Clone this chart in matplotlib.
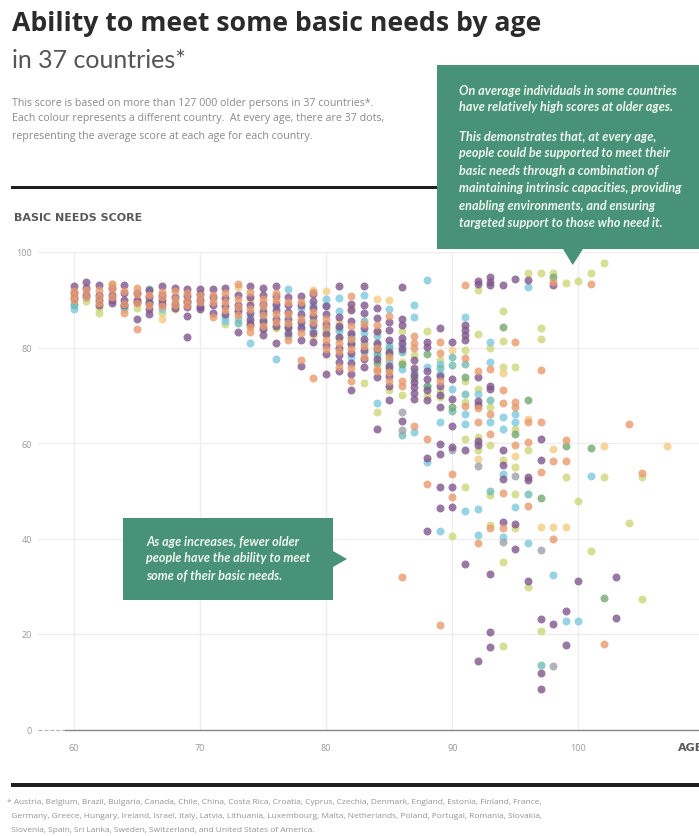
"""plot.py - Ability to meet some basic needs by age, 37 countries"""

import matplotlib
matplotlib.use("Agg")
import matplotlib.pyplot as plt
from matplotlib.patches import Polygon, Rectangle

# --- Data: score, per age, grouped by dot colour ------------------------------

purple = {
    60: [92.9, 91.5, 90.3], 61: [93.7, 92.4, 91.0], 62: [93.0, 91.0, 90.0, 89.0],
    63: [92.5, 91.0, 90.0, 89.3], 64: [93.0, 91.5, 90.0, 88.8], 65: [91.5, 90.0, 89.5, 86.0],
    66: [92.0, 90.5, 89.3, 88.0, 87.0], 67: [92.8, 91.0, 90.0, 89.2], 68: [92.5, 90.5, 89.2, 88.2],
    69: [92.3, 90.8, 89.5, 88.5, 86.6, 82.3], 70: [92.3, 91.2, 90.0, 88.5, 88.0],
    71: [92.3, 90.5, 88.8, 87.3], 72: [92.5, 90.4, 88.6, 87.0], 73: [91.0, 89.0, 87.6, 83.2],
    74: [92.8, 90.6, 89.0, 87.2, 85.8, 85.0], 75: [92.5, 91.0, 89.2, 87.6, 85.5, 83.8, 82.6],
    76: [92.8, 90.8, 89.2, 87.8, 86.0, 84.6, 81.0], 77: [90.5, 88.9, 87.5, 86.0, 84.3, 83.0],
    78: [90.7, 88.8, 87.0, 85.4, 84.0, 81.5, 76.2], 79: [91.2, 89.8, 88.2, 86.6, 84.7, 83.0, 81.2],
    80: [88.6, 87.0, 85.0, 82.8, 80.5, 78.7, 74.5], 81: [92.8, 86.4, 84.6, 82.3, 80.0, 78.4, 77.0, 75.0],
    82: [89.2, 87.8, 85.6, 83.0, 80.8, 78.8, 76.7, 74.5, 71.0],
    83: [92.8, 88.8, 87.2, 84.0, 81.8, 79.4, 77.5, 76.0], 84: [88.3, 86.2, 83.4, 81.0, 79.6, 77.5, 73.8, 63.0],
    85: [85.3, 83.7, 81.6, 79.0, 76.2, 74.0, 72.0, 69.0], 86: [92.7, 85.9, 84.7, 82.0, 81.0, 79.6, 64.7],
    87: [77.3, 75.8, 74.3, 72.8, 71.7, 70.5, 69.3], 88: [81.2, 80.2, 75.0, 73.4, 71.0, 69.0, 56.8, 41.5],
    89: [84.0, 74.0, 72.0, 70.0, 67.5, 59.7, 57.8, 50.7, 46.3], 90: [81.2, 73.5, 69.3, 63.6, 59.2, 50.7, 46.6],
    91: [84.7, 83.6, 82.6, 81.5, 58.5, 34.7], 92: [94.0, 93.3, 73.8, 68.9, 68.0, 60.5, 59.5, 14.4],
    93: [94.7, 93.8, 93.1, 72.0, 71.4, 32.6, 20.4, 17.2], 94: [93.1, 58.5, 55.3, 52.5, 43.5],
    95: [94.4, 43.1, 37.7], 96: [94.1, 52.9, 52.3, 31.2], 97: [60.8, 56.5, 23.2, 11.8, 8.5],
    98: [93.1, 22.0], 99: [24.8, 17.7], 100: [31.2], 103: [32.0, 23.3],
}
orange = {
    60: [91.8, 90.8, 90.0], 61: [92.0, 90.6], 62: [92.0, 90.5, 89.4], 63: [93.4, 92.2, 90.6],
    64: [91.8, 89.2, 87.2], 65: [92.5, 91.3, 89.4, 83.8], 66: [91.0, 89.0], 67: [91.6, 90.6, 88.6],
    68: [91.8, 90.2, 89.0], 69: [91.5, 90.0, 88.8], 70: [91.0, 89.5], 71: [91.0, 89.6, 86.4],
    72: [91.5, 89.5, 87.8], 73: [93.2, 90.2, 88.4, 86.8], 74: [91.6, 88.0, 84.2, 83.2],
    75: [90.2, 88.6, 86.8, 84.6], 76: [91.4, 90.0, 87.0, 85.4], 77: [89.6, 87.0, 85.2, 81.5],
    78: [89.6, 86.0, 83.0, 77.3], 79: [91.7, 87.4, 85.4, 73.7], 80: [86.0, 84.2, 81.6, 79.6],
    81: [81.0, 79.2, 76.0], 82: [90.7, 84.4, 81.8, 79.6, 75.8, 72.9], 83: [85.0, 80.4, 78.0],
    84: [84.7, 80.0, 75.6, 75.0], 85: [86.6, 78.0, 74.8, 73.0], 86: [73.0, 72.0, 32.0],
    87: [82.5, 81.0, 79.8, 63.6], 88: [60.9, 51.5], 89: [81.2, 78.8, 73.0, 21.9],
    90: [53.6, 48.6], 91: [93.0, 77.7, 67.8], 92: [75.0, 67.3, 64.4, 39.0],
    93: [75.6, 66.1, 61.9, 42.1], 94: [71.2, 68.3, 49.6, 42.1], 95: [81.2, 68.6, 67.5, 59.5],
    96: [64.4, 60.3, 46.8], 97: [75.3, 64.5, 54.0], 98: [93.8, 56.2, 39.8], 99: [60.7, 56.2],
    101: [93.3], 102: [18.0], 104: [64.0], 105: [53.8],
}
blue = {
    60: [88.0, 89.2], 61: [90.5], 64: [88.2], 66: [89.8], 67: [88.0], 70: [89.0], 72: [85.6, 86.4],
    73: [88.0, 86.0], 74: [86.4, 81.0], 75: [86.0, 84.0], 76: [88.6, 77.5], 77: [92.2, 85.0],
    78: [88.2, 84.6], 79: [88.8, 83.6], 80: [90.2, 89.0, 84.0], 81: [90.4, 87.7, 83.4],
    82: [82.0, 78.0], 83: [91.0, 83.0, 79.0], 84: [82.5, 79.0, 68.4], 85: [88.0, 80.6, 77.0],
    86: [80.4, 75.6], 87: [89.0, 86.4, 62.2], 88: [94.1, 76.0, 72.0, 56.0],
    89: [76.5, 74.5, 64.5, 41.5], 90: [71.3], 91: [86.4, 66.1, 63.9, 45.7], 92: [70.3, 46.2, 40.7],
    93: [81.2, 77.0, 64.5], 94: [65.5, 63.0, 53.6, 40.4], 95: [66.0, 64.5, 46.6], 96: [92.7, 39.1],
    98: [32.4], 99: [22.7], 100: [22.7], 101: [53.1],
}
teal = {
    60: [89.0], 64: [88.6], 66: [92.2, 89.6], 69: [89.8], 73: [85.2], 75: [87.0], 77: [84.0, 82.4],
    79: [85.8], 81: [84.0], 82: [82.6, 81.0], 83: [85.6, 81.0], 84: [80.6, 78.5], 85: [79.8, 78.6],
    86: [79.0, 61.6], 87: [74.9], 89: [75.8], 90: [78.0, 76.3, 66.8], 91: [76.5, 70.3],
    93: [69.0, 50.0], 96: [49.3], 97: [13.5],
}
gold = {
    63: [93.2], 67: [86.0], 73: [92.6], 74: [90.0], 75: [85.2], 79: [92.0, 82.4], 80: [91.8, 83.0],
    81: [85.4], 82: [88.2], 84: [90.2, 83.0], 85: [89.9], 86: [77.0], 90: [79.5], 92: [56.7],
    94: [74.7], 95: [57.3], 96: [65.1], 97: [42.5], 98: [58.8, 42.5], 99: [42.5], 102: [59.3], 107: [59.3],
}
yellow = {
    61: [89.8], 62: [87.3, 88.2], 64: [88.0], 65: [88.3], 67: [87.2], 68: [88.0], 72: [85.0],
    74: [84.8], 76: [84.0], 80: [83.6], 81: [82.0], 83: [72.6], 84: [83.4, 66.5], 85: [77.6, 71.0],
    86: [83.5, 70.0], 87: [78.5], 88: [83.5, 69.8], 89: [77.3, 71.0, 69.6], 90: [40.5],
    91: [79.5, 72.9, 68.6, 60.9, 50.7], 92: [92.0, 82.9, 71.4, 61.2, 58.5], 93: [79.8, 67.5, 59.5, 49.2, 42.9],
    94: [87.7, 81.3, 75.9, 56.4, 35.0, 17.4], 95: [75.9, 63.0, 55.0, 49.3, 42.1], 96: [95.5, 58.5, 29.8],
    97: [95.5, 84.0, 81.8, 20.7], 98: [95.5], 99: [93.5, 52.9], 100: [94.0, 47.8], 101: [95.5, 37.4],
    102: [97.6, 52.9], 104: [43.3], 105: [52.9, 27.4],
}
green = {
    84: [76.8], 85: [75.6], 86: [76.6], 87: [73.6], 88: [78.7, 72.0], 90: [67.5], 91: [73.9], 94: [84.2],
    95: [61.9], 96: [69.0], 97: [48.4], 98: [94.8], 99: [59.4], 101: [59.0], 102: [27.6],
}
gray = {
    86: [66.4, 62.8], 90: [58.5], 92: [55.1], 94: [39.3], 95: [53.0], 97: [37.6], 98: [13.4],
}

series = [
    (yellow, "#cdd77a"), (gold, "#f3cd85"), (blue, "#7cc8df"), (teal, "#70bdb4"),
    (green, "#72a972"), (gray, "#a0a0ac"), (purple, "#80568c"), (orange, "#e89a6e"),
]

age_ticks = [60, 70, 80, 90, 100]
score_ticks = [0, 20, 40, 60, 80, 100]

title = "Ability to meet some basic needs by age"
subtitle = "in 37 countries*"
intro = [
    "This score is based on more than 127 000 older persons in 37 countries*.",
    "Each colour represents a different country.  At every age, there are 37 dots,",
    "representing the average score at each age for each country.",
]
note_top = [
    (90.5, "On average individuals in some countries"),
    (106.5, "have relatively high scores at older ages."),
    (136.5, "This demonstrates that, at every age,"),
    (153, "people could be supported to meet their"),
    (170.5, "basic needs through a combination of"),
    (188, "maintaining intrinsic capacities, providing"),
    (205.5, "enabling environments, and ensuring"),
    (222.5, "targeted support to those who need it."),
]
note_left = [
    (541.5, "As age increases, fewer older"),
    (558, "people have the ability to meet"),
    (575.5, "some of their basic needs."),
]
footnote = [
    "* Austria, Belgium, Brazil, Bulgaria, Canada, Chile, China, Costa Rica, Croatia, Cyprus, Czechia, Denmark, England, Estonia, Finland, France,",
    "  Germany, Greece, Hungary, Ireland, Israel, Italy, Latvia, Lithuania, Luxembourg, Malta, Netherlands, Poland, Portugal, Romania, Slovakia,",
    "  Slovenia, Spain, Sri Lanka, Sweden, Switzerland, and United States of America.",
]

# --- Figure -------------------------------------------------------------------

W, H = 699, 837
BOX = "#479279"
fig = plt.figure(figsize=(W / 100, H / 100), dpi=100, facecolor="white")

# chart axes, placed so 60 sits at x=73.7px and 0..100 runs 730.5..253px
ax = fig.add_axes([38 / W, (H - 730.5) / H, (W - 38) / W, 477.5 / H], zorder=1)
ax.set_xlim(57.17, 109.55)
ax.set_ylim(0, 100)
ax.set_xticks(age_ticks)
ax.set_yticks(score_ticks)
ax.grid(color="#eeeeee", lw=1)
ax.set_axisbelow(True)
for side in ["top", "right", "left"]:
    ax.spines[side].set_visible(False)
ax.spines["bottom"].set_bounds(59.3, 109.55)
ax.spines["bottom"].set_color("#8a8a8a")
ax.spines["bottom"].set_linewidth(1.0)
ax.plot([57.2, 59.3], [0, 0], ls="--", lw=0.8, color="#b5b5b5", clip_on=False)
ax.tick_params(length=0, labelsize=6.5, labelcolor="#999999", pad=4.5)
ax.tick_params(axis="x", pad=9.5)
for lab in ax.get_xticklabels() + ax.get_yticklabels():
    lab.set_family("Open Sans")

for values, color in series:
    xs = [age for age, scores in values.items() for _ in scores]
    ys = [s for scores in values.values() for s in scores]
    ax.scatter(xs, ys, s=33, color=color, alpha=0.8, linewidths=0, clip_on=False, zorder=3)

# overlay in pixel coordinates for the page furniture
page = fig.add_axes([0, 0, 1, 1], zorder=2)
page.set_xlim(0, W)
page.set_ylim(H, 0)
page.axis("off")
page.patch.set_alpha(0)

page.add_patch(Rectangle((11, 186.5), 430, 3.2, color="#1f1f1f", lw=0))
page.add_patch(Rectangle((11, 784), W - 11, 4, color="#1f1f1f", lw=0))

page.add_patch(Rectangle((437, 66), W - 437, 184, color=BOX, lw=0))
page.add_patch(Polygon([(563, 250), (583, 250), (572.7, 266)], color=BOX, lw=0))
page.add_patch(Rectangle((123, 519), 210, 82, color=BOX, lw=0))
page.add_patch(Polygon([(333, 552), (333, 568), (347, 560)], color=BOX, lw=0))

page.text(12, 24, title, fontsize=19.2, fontweight="bold", family="Open Sans",
          color="#2b2b2b", va="center")
page.text(12, 60, subtitle, fontsize=18, family="Lato", color="#555555", va="center")
for y, line in zip([103, 118, 136.5], intro):
    page.text(12, y, line, fontsize=7.7, family="Open Sans", color="#8a8a8a", va="center")

page.text(14, 218, "BASIC NEEDS SCORE", fontsize=8.0, fontweight="bold", family="DejaVu Sans",
          color="#5a5a5a", va="center")
page.text(678, 748, "AGE", fontsize=8, fontweight="bold", family="DejaVu Sans",
          color="#5a5a5a", va="center")

for y, line in note_top:
    page.text(459, y, line, fontsize=9.1, family="Lato", fontweight="bold", style="italic",
              color="#eef5ec", va="center")
for y, line in note_left:
    page.text(146, y, line, fontsize=9.1, family="Lato", fontweight="bold", style="italic",
              color="#eef5ec", va="center")

for y, line in zip([802.5, 817, 831], footnote):
    page.text(7, y, line, fontsize=6.0, family="Open Sans", color="#949494", va="center")

fig.savefig("out.png", dpi=100)
plt.close(fig)
